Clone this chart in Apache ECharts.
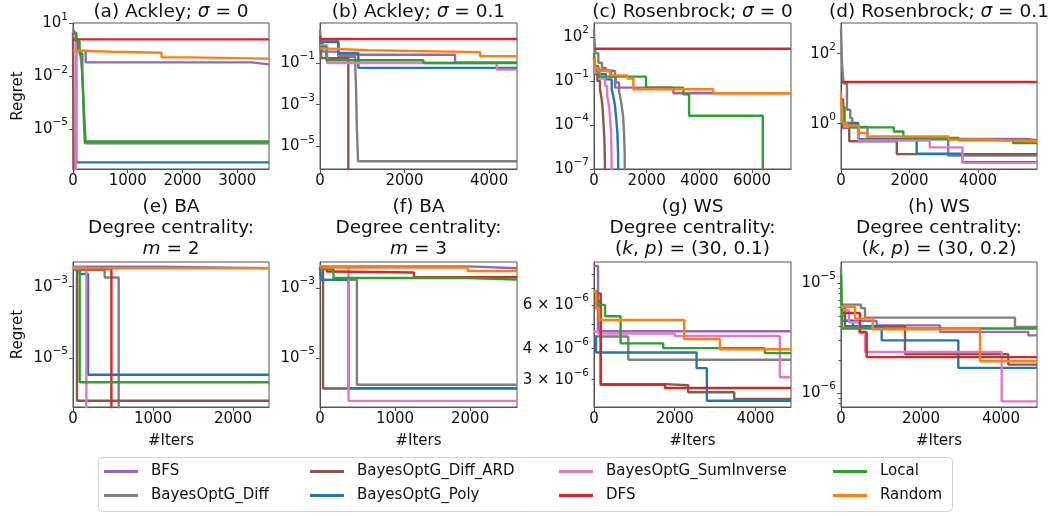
<!DOCTYPE html>
<html><head><meta charset="utf-8">
<script src="https://cdn.jsdelivr.net/npm/echarts@6/dist/echarts.min.js"></script>
<style>html,body{margin:0;padding:0;background:#fff}#c{width:1056px;height:516px}</style>
</head><body><div id="c"></div>
<script>
// ---------- data ----------
const methods = ['BFS','BayesOptG_Diff','BayesOptG_Diff_ARD','BayesOptG_Poly','BayesOptG_SumInverse','DFS','Local','Random'];
const methodColors = ['#9467bd','#7f7f7f','#8c564b','#1f77b4','#e377c2','#d62728','#2ca02c','#ff7f0e'];

const panelTitles = [
  ['{n|(a) Ackley; }{i|σ}{n| = 0}'],
  ['{n|(b) Ackley; }{i|σ}{n| = 0.1}'],
  ['{n|(c) Rosenbrock; }{i|σ}{n| = 0}'],
  ['{n|(d) Rosenbrock; }{i|σ}{n| = 0.1}'],
  ['{n|(e) BA}','{n|Degree centrality:}','{i|m}{n| = 2}'],
  ['{n|(f) BA}','{n|Degree centrality:}','{i|m}{n| = 3}'],
  ['{n|(g) WS}','{n|Degree centrality:}','{n|(}{i|k}{n|, }{i|p}{n|) = (30, 0.1)}'],
  ['{n|(h) WS}','{n|Degree centrality:}','{n|(}{i|k}{n|, }{i|p}{n|) = (30, 0.2)}']
];
const xLabel = '#Iters';
const yLabel = 'Regret';

// each method: one list of [iteration, regret] steps per panel (a..h)
const BFS = [
  [[0,1.2],[90,0.28],[232,0.062],[3263,0.048]],
  [[0,1.3],[60,0.35],[430,0.25],[3195,0.107]],
  [[0,0.63],[100,0.49],[798,0.0355],[3013,0.0148]],
  [[0,2],[76,0.8],[774,0.365],[5400,0.34]],
  [[0,3.6e-3],[1060,3.3e-3]],
  [[0,4.2e-3],[1970,3.7e-3]],
  [[0,8.6e-6],[100,4.7e-6]],
  [[0,5e-6],[100,4.52e-6],[892,4.12e-6],[2475,3.59e-6],[4683,3.34e-6]]
];
const BayesOptG_Diff = [
  [[0,5],[30,3],[60,1.5],[90,0.8],[120,0.3],[145,0.1],[165,0.02],[180,3e-3],[190,3e-4],[200,2e-5],[215,1.6e-6]],
  [[0,4],[20,1.1],[434,0.194],[830,0.1],[850,0.01],[870,1e-4],[900,1.9e-6]],
  [[0,330],[20,50],[60,8],[165,1.8],[300,0.8],[450,0.49],[650,0.2],[830,0.079],[950,0.02],[1013,5.8e-3],[1060,1.5e-3],[1102,4.3e-4],[1140,3e-5],[1165,1e-6],[1180,1e-12]],
  [[0,540],[30,50],[76,14],[174,2.5],[270,1.45],[330,0.93],[512,0.36],[3129,0.122]],
  [[0,2.92e-3],[396,1.8e-3],[571,1e-12]],
  [[0,4e-3],[10,1.73e-3],[492,1.73e-6]],
  [[0,4.48e-6],[849,3.61e-6]],
  [[0,1.4e-5],[15,6.36e-6],[500,5.9e-6],[600,4.84e-6],[4350,3.98e-6]]
];
const BayesOptG_Diff_ARD = [
  [[0,3],[20,1e-12]],
  [[0,2],[30,0.17],[670,1e-12]],
  [[0,5],[38,0.29],[130,0.1],[228,0.0275],[290,6e-3],[329,1.2e-3],[365,1e-4],[393,1.1e-5],[415,3e-7],[431,1e-12]],
  [[0,5],[60,0.75],[241,0.316],[1628,0.135]],
  [[0,3.2e-3],[50,6.4e-7]],
  [[0,4e-3],[40,1.35e-6]],
  [[0,6.2e-6],[170,2.88e-6],[1760,2.85e-6],[2334,2.67e-6],[3473,2.51e-6]],
  [[0,6e-6],[100,4.04e-6],[1600,2.25e-6],[4183,1.81e-6]]
];
const BayesOptG_Poly = [
  [[0,2],[60,1.3e-7]],
  [[0,1.0],[434,0.3],[907,0.058]],
  [[0,3],[38,0.49],[200,0.3],[450,0.13],[671,0.0275],[740,8e-3],[798,2e-3],[850,2e-4],[887,3e-5],[915,1e-6],[937,1e-12]],
  [[0,4],[60,1.05],[500,0.36],[2209,0.138],[3546,0.079]],
  [[0,3.2e-3],[83,2.26e-3],[188,3.4e-6]],
  [[0,4e-3],[15,1.73e-3],[380,1.39e-6]],
  [[0,4.48e-6],[50,3.86e-6],[2541,3.34e-6],[2796,2.47e-6]],
  [[0,4.55e-6],[300,4.04e-6],[1017,3.01e-6],[2933,1.69e-6]]
];
const BayesOptG_SumInverse = [
  [[0,2],[50,1e-12]],
  [[0,0.7],[170,0.1],[4180,0.048]],
  [[0,4],[38,0.37],[200,0.15],[418,0.047],[500,0.01],[570,2e-3],[610,3e-4],[646,3e-5],[665,1e-6],[684,1e-12]],
  [[0,3],[100,0.8],[500,0.33],[2590,0.21],[3546,0.076]],
  [[0,3.4e-3],[167,1e-12]],
  [[0,4.2e-3],[380,6e-7]],
  [[0,4.7e-6],[100,4.6e-6],[2005,4.5e-6],[4604,3.07e-6]],
  [[0,5.65e-6],[200,4.4e-6],[450,3.51e-6],[600,2.36e-6],[4017,8.4e-7]]
];
const DFS = [
  [[0,1.25]],
  [[0,1.42]],
  [[0,16]],
  [[0,15.5]],
  [[0,3.1e-3],[480,1e-12]],
  [[0,4e-3],[90,3e-3],[150,2.8e-3],[1252,2.06e-3]],
  [[0,6.68e-6],[165,2.86e-6],[1757,2.78e-6]],
  [[0,5.34e-6],[475,3.59e-6],[642,2.12e-6]]
];
const Local = [
  [[0,3],[60,1],[120,0.2],[170,0.01],[200,1e-4],[230,2e-6]],
  [[0,0.6],[150,0.134],[2446,0.1]],
  [[0,8],[38,1.07],[165,0.2],[1975,0.0355],[3393,0.0126],[3610,4.3e-4],[6410,1e-12]],
  [[0,3],[100,1.0],[260,0.785],[1540,0.6],[1820,0.39],[3430,0.334],[5020,0.28]],
  [[0,3e-3],[83,2.1e-6]],
  [[0,3.5e-3],[180,1.95e-3],[1990,1.75e-3]],
  [[0,6.8e-6],[80,6e-6],[272,5.4e-6],[660,4.2e-6],[1716,4.02e-6],[4232,3.84e-6]],
  [[0,1.2e-5],[30,3.85e-6]]
];
const Random = [
  [[0,0.3],[20,0.25],[700,0.22],[1617,0.12],[2104,0.105],[3300,0.1]],
  [[0,0.5],[60,0.41],[1150,0.33],[3790,0.21]],
  [[0,3.9],[40,0.8],[150,0.49],[608,0.245],[1266,0.147],[1494,0.0277],[4532,0.0147]],
  [[0,7.5],[40,1.05],[174,0.88],[522,0.54],[773,0.43],[3150,0.35],[4245,0.31]],
  [[0,3.24e-3]],
  [[0,3.9e-3],[1968,3.1e-3]],
  [[0,6.8e-6],[50,5.8e-6],[130,5.22e-6],[2235,4.37e-6],[3119,3.98e-6]],
  [[0,6.05e-6],[350,4.74e-6],[792,3.79e-6],[3475,1.94e-6]]
];

const xMax = [3580, 4660, 7480, 5720, 2450, 2625, 4880, 4900];
const yMin = [5.5e-8, 8.1e-7, 0.98e-7, 0.0507, 4.27e-7, 4.0e-7, 2.33e-6, 7.46e-7];
const yMax = [10.7, 8.3, 930, 752, 4.9e-3, 5.6e-3, 8.93e-6, 1.55e-5];
const xTicks = [[0,1000,2000,3000],[0,2000,4000],[0,2000,4000,6000],[0,2000,4000],[0,1000,2000],[0,1000,2000],[0,2000,4000],[0,2000,4000]];
const yTicks = [[10,1e-2,1e-5],[1e-1,1e-3,1e-5],[1e2,1e-1,1e-4,1e-7],[1e2,1],[1e-3,1e-5],[1e-3,1e-5],[6e-6,4e-6,3e-6],[1e-5,1e-6]];
const yMajorTickMarks = [[10,1e-2,1e-5],[1e-1,1e-3,1e-5],[1e2,1e-1,1e-4,1e-7],[1e2,1],[1e-3,1e-5],[1e-3,1e-5],[],[1e-5,1e-6]];
const yMinorTickMarks = [[],[],[],[],[],[],[3e-6,4e-6,5e-6,6e-6,7e-6,8e-6],[8e-7,9e-7,2e-6,3e-6,4e-6,5e-6,6e-6,7e-6,8e-6,9e-6]];

const methodData = [BFS, BayesOptG_Diff, BayesOptG_Diff_ARD, BayesOptG_Poly, BayesOptG_SumInverse, DFS, Local, Random];

// ---------- layout ----------
const FONT = 'DejaVu Sans';
const colLeft = [73, 320, 594, 841];
const colWidth = [196, 197, 197, 196];
const rowTop = [23, 262];
const rowHeight = [146, 145];
const AX = '#555';
const TXT = '#111';

function powLabel(v) {
  const e = Math.floor(Math.log10(v) + 1e-9);
  const m = Math.round(v / Math.pow(10, e));
  const es = (e < 0 ? '\u2212' : '') + Math.abs(e);
  return (m === 1 ? '{b|10}' : '{b|' + m + ' \u00d7 10}') + '{s|' + es + '}';
}

const grid = [], xAxis = [], yAxis = [], series = [], graphic = [];
for (let p = 0; p < 8; p++) {
  const r = Math.floor(p / 4), c = p % 4;
  grid.push({left: colLeft[c], top: rowTop[r], width: colWidth[c], height: rowHeight[r],
    show: true, borderColor: AX, borderWidth: 1, backgroundColor: 'transparent'});
  xAxis.push({gridIndex: p, type: 'value', min: 0, max: xMax[p],
    axisLine: {show: true, lineStyle: {color: AX, width: 1}},
    axisTick: {show: true, customValues: xTicks[p], length: 4, lineStyle: {color: AX}},
    axisLabel: {customValues: xTicks[p], fontSize: 15, fontFamily: FONT, color: TXT, margin: 5,
      formatter: v => String(v)},
    splitLine: {show: false}});
  yAxis.push({gridIndex: p, type: 'log', logBase: 10, min: yMin[p], max: yMax[p], position: 'left',
    axisLine: {show: true, lineStyle: {color: AX, width: 1}},
    axisTick: {show: yMajorTickMarks[p].length > 0, customValues: yMajorTickMarks[p].length ? yMajorTickMarks[p] : [1], length: 4, lineStyle: {color: AX}},
    axisLabel: {customValues: yTicks[p], margin: 5, fontFamily: FONT, color: TXT,
      formatter: powLabel,
      rich: {
        b: {fontSize: 15, fontFamily: FONT, color: TXT, lineHeight: 24},
        s: {fontSize: 10.5, fontFamily: FONT, color: TXT, lineHeight: 11, verticalAlign: 'top'}
      }},
    splitLine: {show: false}, minorSplitLine: {show: false}});
  const cx = colLeft[c] + colWidth[c] / 2;
  const t = panelTitles[p];
  const titleYs = r === 0 ? [12] : [207, 228, 249];
  t.forEach((line, k) => {
    graphic.push({type: 'text', x: cx, y: titleYs[k], silent: true,
      style: {text: line, align: 'center', verticalAlign: 'middle',
        rich: {n: {fontSize: 18.5, fontFamily: FONT, fill: TXT, color: TXT},
               i: {fontSize: 18.5, fontFamily: FONT, fontStyle: 'italic', fill: TXT, color: TXT}}}});
  });
  if (r === 1) {
    graphic.push({type: 'text', x: cx, y: 441, silent: true,
      style: {text: xLabel, align: 'center', verticalAlign: 'middle', font: '15px "DejaVu Sans"', fill: TXT}});
  }
  methods.forEach((name, mi) => {
    const pts = methodData[mi][p].slice();
    pts.push([xMax[p], pts[pts.length - 1][1]]);
    series.push({name: name, type: 'line', xAxisIndex: p, yAxisIndex: p, data: pts,
      step: 'end', showSymbol: false, symbol: 'none', clip: true,
      lineStyle: {color: methodColors[mi], width: 2.4}, itemStyle: {color: methodColors[mi]},
      emphasis: {disabled: true}, z: 2 + mi});
  });
}
// minor tick axes (panels g and h)
[6, 7].forEach(p => {
  yAxis.push({gridIndex: p, type: 'log', logBase: 10, min: yMin[p], max: yMax[p], position: 'left',
    axisLine: {show: false}, axisLabel: {show: false}, splitLine: {show: false},
    axisTick: {show: true, customValues: yMinorTickMarks[p], length: 2.5, lineStyle: {color: AX}}});
});
[96, 334.5].forEach(y => {
  graphic.push({type: 'text', x: 18, y: y, rotation: Math.PI / 2, silent: true,
    style: {text: yLabel, align: 'center', verticalAlign: 'middle', font: '15px "DejaVu Sans"', fill: TXT}});
});
graphic.push({type: 'rect', shape: {x: 98.5, y: 457.5, width: 854, height: 54, r: 4}, z: 0, silent: true,
  style: {fill: '#fff', stroke: '#d4d4d4', lineWidth: 1}});

const legendLeft = [104, 310, 559, 833];
const legendGroups = [['BFS','BayesOptG_Diff'],['BayesOptG_Diff_ARD','BayesOptG_Poly'],['BayesOptG_SumInverse','DFS'],['Local','Random']];
const legend = legendGroups.map((g, k) => ({
  data: g, orient: 'vertical', left: legendLeft[k], top: 464, padding: 0, itemGap: 9,
  itemWidth: 34, itemHeight: 3, icon: 'rect', selectedMode: false,
  textStyle: {fontSize: 15, fontFamily: FONT, color: TXT, padding: [0, 0, 0, 8]}
}));

const chart = echarts.init(document.getElementById('c'), null, {renderer: 'canvas'});
chart.setOption({
  animation: false, backgroundColor: '#fff',
  textStyle: {fontFamily: FONT},
  grid, xAxis, yAxis, series, graphic, legend
});
</script></body></html>
